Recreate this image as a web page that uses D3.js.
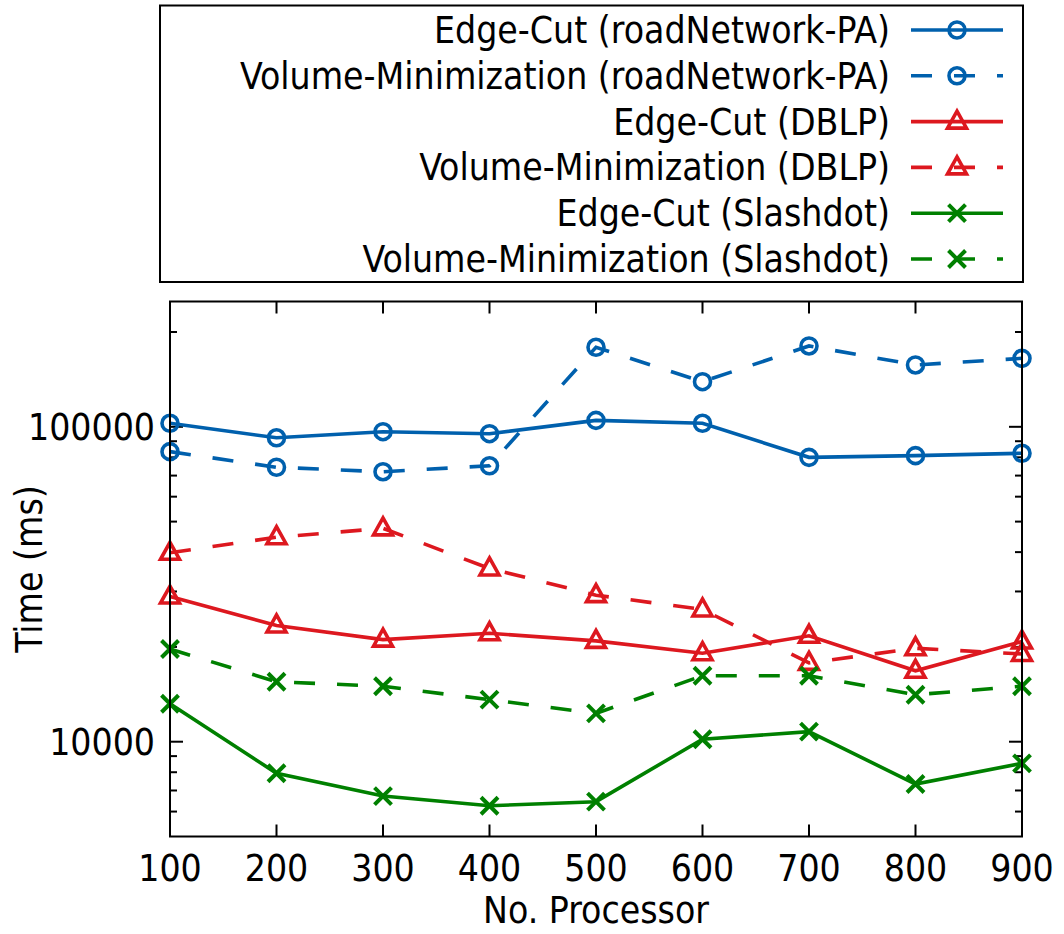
<!DOCTYPE html>
<html>
<head>
<meta charset="utf-8">
<script src="https://cdn.jsdelivr.net/npm/d3@7"></script>
<style>
  html, body { margin: 0; padding: 0; background: #fff; }
  svg text {
    font-family: 'DejaVu Sans Condensed', 'DejaVu Sans', sans-serif;
    font-stretch: condensed;
    fill: #000;
  }
</style>
</head>
<body>
<svg id="chart" width="1064" height="934"></svg>
<script>
// Processor counts on the x axis
const processors = [100, 200, 300, 400, 500, 600, 700, 800, 900];

// Running time (ms) per partitioning strategy and dataset
const edgeCutRoad   = [102600, 92300, 96500, 95100, 104800, 102600, 80000, 81000, 82400];
const volMinRoad    = [83400, 74400, 72000, 75200, 178900, 139100, 180600, 157200, 165000];
const edgeCutDblp   = [28900, 23400, 21100, 22100, 20900, 19100, 21700, 16800, 20800];
const volMinDblp    = [39800, 44600, 47600, 35500, 29200, 26300, 17800, 19800, 19000];
const edgeCutSlash  = [13200, 7940, 6720, 6260, 6450, 10180, 10760, 7340, 8540];
const volMinSlash   = [19700, 15500, 15000, 13600, 12300, 16200, 16200, 14100, 15000];

const seriesLabels = [
  'Edge-Cut (roadNetwork-PA)',
  'Volume-Minimization (roadNetwork-PA)',
  'Edge-Cut (DBLP)',
  'Volume-Minimization (DBLP)',
  'Edge-Cut (Slashdot)',
  'Volume-Minimization (Slashdot)'
];
const seriesValues = [edgeCutRoad, volMinRoad, edgeCutDblp, volMinDblp, edgeCutSlash, volMinSlash];

const xTicks = [100, 200, 300, 400, 500, 600, 700, 800, 900];
const yMajorTicks = [10000, 100000];
const yMinorTicks = [6000, 7000, 8000, 9000, 20000, 30000, 40000, 50000, 60000, 70000, 80000, 90000, 200000];

const xTitle = 'No. Processor';
const yTitle = 'Time (ms)';

// Styling per series
const styles = [
  { color: '#0060ad', dashed: false, marker: 'circle' },
  { color: '#0060ad', dashed: true,  marker: 'circle' },
  { color: '#dd181f', dashed: false, marker: 'triangle' },
  { color: '#dd181f', dashed: true,  marker: 'triangle' },
  { color: '#008000', dashed: false, marker: 'cross' },
  { color: '#008000', dashed: true,  marker: 'cross' }
];

const svg = d3.select('#chart');
const plot = { left: 170, right: 1022, top: 301.5, bottom: 836.5 };

const x = d3.scaleLinear().domain([100, 900]).range([plot.left, plot.right]);
const y = d3.scaleLog().domain([5000, 250000]).range([plot.bottom, plot.top]);

const FS = 37;
const DASH = '21,22';
const LW = 3.6;

// Axis tick marks (inward, mirrored on opposite sides)
const tickG = svg.append('g').attr('stroke', '#000').attr('stroke-width', 2);
xTicks.forEach(v => {
  tickG.append('line').attr('x1', x(v)).attr('x2', x(v)).attr('y1', plot.bottom).attr('y2', plot.bottom - 12);
  tickG.append('line').attr('x1', x(v)).attr('x2', x(v)).attr('y1', plot.top).attr('y2', plot.top + 12);
});
yMajorTicks.forEach(v => {
  tickG.append('line').attr('x1', plot.left).attr('x2', plot.left + 13).attr('y1', y(v)).attr('y2', y(v));
  tickG.append('line').attr('x1', plot.right).attr('x2', plot.right - 13).attr('y1', y(v)).attr('y2', y(v));
});
yMinorTicks.forEach(v => {
  tickG.append('line').attr('x1', plot.left).attr('x2', plot.left + 7).attr('y1', y(v)).attr('y2', y(v));
  tickG.append('line').attr('x1', plot.right).attr('x2', plot.right - 7).attr('y1', y(v)).attr('y2', y(v));
});

// Tick labels
svg.append('g').selectAll('text').data(xTicks).join('text')
  .attr('x', d => x(d)).attr('y', 881)
  .attr('text-anchor', 'middle').attr('font-size', FS)
  .text(d => d);
svg.append('g').selectAll('text').data(yMajorTicks).join('text')
  .attr('x', 155).attr('y', d => y(d) + 13)
  .attr('text-anchor', 'end').attr('font-size', FS)
  .text(d => d);

// Axis titles
svg.append('text').attr('x', (plot.left + plot.right) / 2).attr('y', 923)
  .attr('text-anchor', 'middle').attr('font-size', FS).text(xTitle);
svg.append('text').attr('transform', `translate(42, ${(plot.top + plot.bottom) / 2}) rotate(-90)`)
  .attr('text-anchor', 'middle').attr('font-size', FS).text(yTitle);

// Marker drawing
function drawMarker(g, kind, cx, cy, color) {
  if (kind === 'circle') {
    g.append('circle').attr('cx', cx).attr('cy', cy).attr('r', 8)
      .attr('fill', 'none').attr('stroke', color).attr('stroke-width', 3.6);
  } else if (kind === 'triangle') {
    g.append('path')
      .attr('d', `M${cx},${cy - 10.5}L${cx + 9.5},${cy + 6.5}L${cx - 9.5},${cy + 6.5}Z`)
      .attr('fill', 'none').attr('stroke', color).attr('stroke-width', 3.6)
      .attr('stroke-linejoin', 'miter');
  } else {
    const s = 8.5;
    g.append('path')
      .attr('d', `M${cx - s},${cy - s}L${cx + s},${cy + s}M${cx - s},${cy + s}L${cx + s},${cy - s}`)
      .attr('stroke', color).attr('stroke-width', 4).attr('fill', 'none');
  }
}

// Series lines and markers
const line = d3.line().x((d, i) => x(processors[i])).y(d => y(d));
const dataG = svg.append('g');
seriesValues.forEach((vals, si) => {
  const st = styles[si];
  dataG.append('path').datum(vals)
    .attr('d', line)
    .attr('fill', 'none').attr('stroke', st.color).attr('stroke-width', LW)
    .attr('stroke-dasharray', st.dashed ? DASH : null)
    .attr('stroke-linejoin', 'miter');
  vals.forEach((v, i) => drawMarker(dataG, st.marker, x(processors[i]), y(v), st.color));
});

// Plot frame
svg.append('rect')
  .attr('x', plot.left).attr('y', plot.top)
  .attr('width', plot.right - plot.left).attr('height', plot.bottom - plot.top)
  .attr('fill', 'none').attr('stroke', '#000').attr('stroke-width', 2);

// Legend
const legend = svg.append('g');
legend.append('rect').attr('x', 160).attr('y', 5.5).attr('width', 863).attr('height', 276.5)
  .attr('fill', '#fff').attr('stroke', '#000').attr('stroke-width', 2);
seriesLabels.forEach((label, i) => {
  const cy = 30 + i * 45.8;
  const st = styles[i];
  legend.append('text').attr('x', 890).attr('y', cy + 13)
    .attr('text-anchor', 'end').attr('font-size', FS).text(label);
  legend.append('line').attr('x1', 911).attr('x2', 1003).attr('y1', cy).attr('y2', cy)
    .attr('stroke', st.color).attr('stroke-width', LW)
    .attr('stroke-dasharray', st.dashed ? DASH : null);
  drawMarker(legend, st.marker, 957, cy, st.color);
});
</script>
</body>
</html>
